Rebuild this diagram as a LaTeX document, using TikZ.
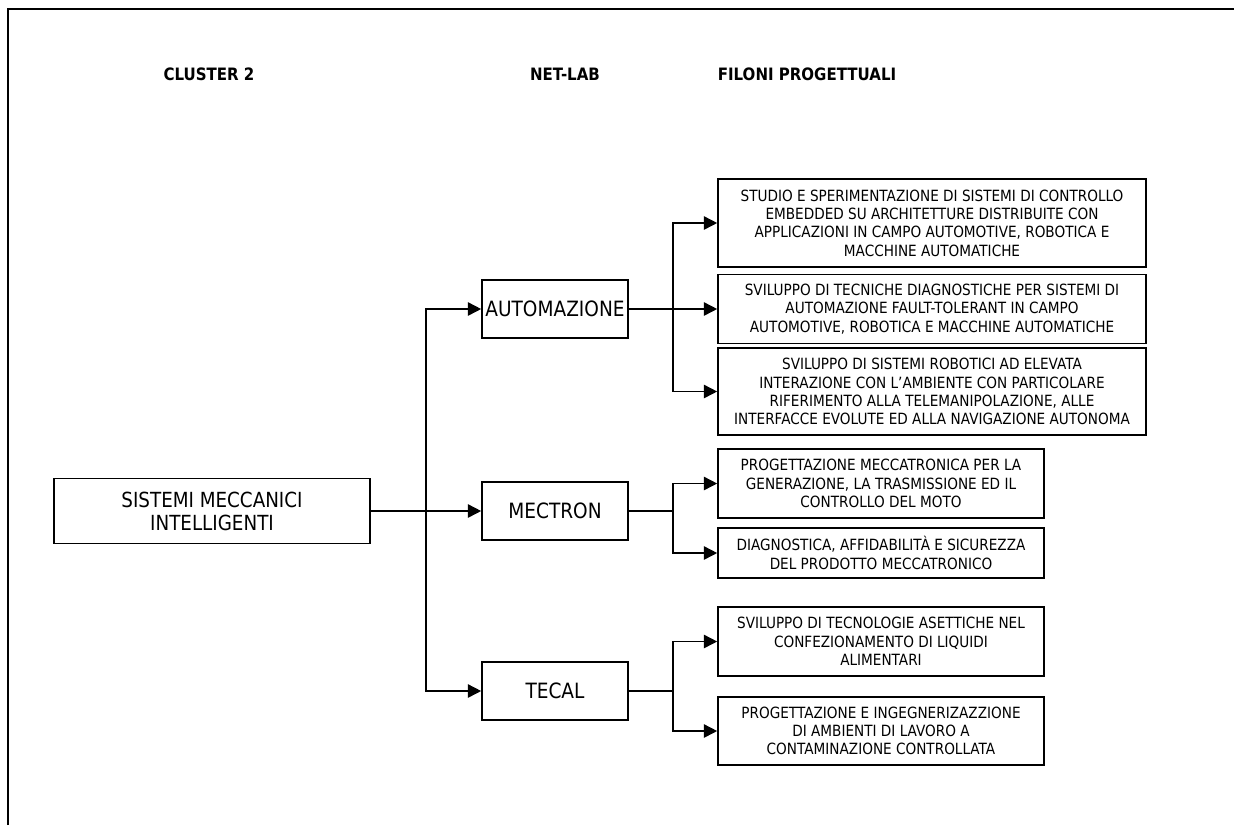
\documentclass[tikz,border=0pt]{standalone}
\usepackage{fontspec}
\setmainfont{DejaVu Sans}[FakeStretch=0.88]
\usetikzlibrary{arrows.meta}
\begin{document}
\begin{tikzpicture}[x=0.75pt,y=-0.75pt,
  box/.style={draw,line width=1.2pt,inner sep=0pt,align=center},
  small/.style={box,font=\fontsize{11.6}{13.7}\selectfont},
  mid/.style={box,minimum width=109.5pt,minimum height=43.5pt,font=\fontsize{15.8}{18}\selectfont},
  head/.style={font=\fontsize{12.8}{15}\selectfont\bfseries},
  wide/.style={small,minimum width=321pt},
  narrow/.style={small,minimum width=244.5pt},
  conn/.style={line width=1.2pt},
  arr/.style={conn,-{Triangle[length=10pt,width=10pt]}}]
\useasboundingbox (0,0) rectangle (1234,825);
\draw[line width=1.4pt] (8,825) -- (8,9) -- (1234,9);

\node[head] (h1) at (209,74) {CLUSTER 2};
\node[head] (h2) at (565,74) {NET-LAB};
\node[head] (h3) at (807,74) {FILONI PROGETTUALI};

\node[box,minimum width=237pt,minimum height=48.75pt,font=\fontsize{15.6}{17.3}\selectfont] (main) at (212,511) {SISTEMI MECCANICI\\INTELLIGENTI};

\node[mid] (auto) at (555,309) {AUTOMAZIONE};
\node[mid] (mect) at (555,511) {MECTRON};
\node[mid] (tecal) at (555,691) {TECAL};

\node[wide,minimum height=66pt] (b1) at (932,223) {STUDIO E SPERIMENTAZIONE DI SISTEMI DI CONTROLLO\\EMBEDDED SU ARCHITETTURE DISTRIBUITE CON\\APPLICAZIONI IN CAMPO AUTOMOTIVE, ROBOTICA E\\MACCHINE AUTOMATICHE};
\node[wide,minimum height=51.75pt] (b2) at (932,309) {SVILUPPO DI TECNICHE DIAGNOSTICHE PER SISTEMI DI\\AUTOMAZIONE FAULT-TOLERANT IN CAMPO\\AUTOMOTIVE, ROBOTICA E MACCHINE AUTOMATICHE};
\node[wide,minimum height=65.25pt] (b3) at (932,391.5) {SVILUPPO DI SISTEMI ROBOTICI AD ELEVATA\\INTERAZIONE CON L’AMBIENTE CON PARTICOLARE\\RIFERIMENTO ALLA TELEMANIPOLAZIONE, ALLE\\INTERFACCE EVOLUTE ED ALLA NAVIGAZIONE AUTONOMA};

\node[narrow,minimum height=51.75pt] (b4) at (881,483.5) {PROGETTAZIONE MECCATRONICA PER LA\\GENERAZIONE, LA TRASMISSIONE ED IL\\CONTROLLO DEL MOTO};
\node[narrow,minimum height=37.5pt] (b5) at (881,553) {DIAGNOSTICA, AFFIDABILITÀ E SICUREZZA\\DEL PRODOTTO MECCATRONICO};
\node[narrow,minimum height=51.75pt] (b6) at (881,641.5) {SVILUPPO DI TECNOLOGIE ASETTICHE NEL\\CONFEZIONAMENTO DI LIQUIDI\\ALIMENTARI};
\node[narrow,minimum height=51pt] (b7) at (881,731) {PROGETTAZIONE E INGEGNERIZAZZIONE\\DI AMBIENTI DI LAVORO A\\CONTAMINAZIONE CONTROLLATA};

\coordinate (j0) at (426,511);
\coordinate (ja) at (673,309);
\coordinate (jm) at (673,511);
\coordinate (jt) at (673,691);

\draw[conn] (main.east) -- (j0);
\draw[arr] (j0) |- (auto.west);
\draw[arr] (j0) -- (mect.west);
\draw[arr] (j0) |- (tecal.west);

\draw[conn] (auto.east) -- (ja);
\draw[arr] (ja) |- (b1.west);
\draw[arr] (ja) -- (b2.west);
\draw[arr] (ja) |- (b3.west);

\draw[conn] (mect.east) -- (jm);
\draw[arr] (jm) |- (b4.west);
\draw[arr] (jm) |- (b5.west);

\draw[conn] (tecal.east) -- (jt);
\draw[arr] (jt) |- (b6.west);
\draw[arr] (jt) |- (b7.west);
\end{tikzpicture}
\end{document}
